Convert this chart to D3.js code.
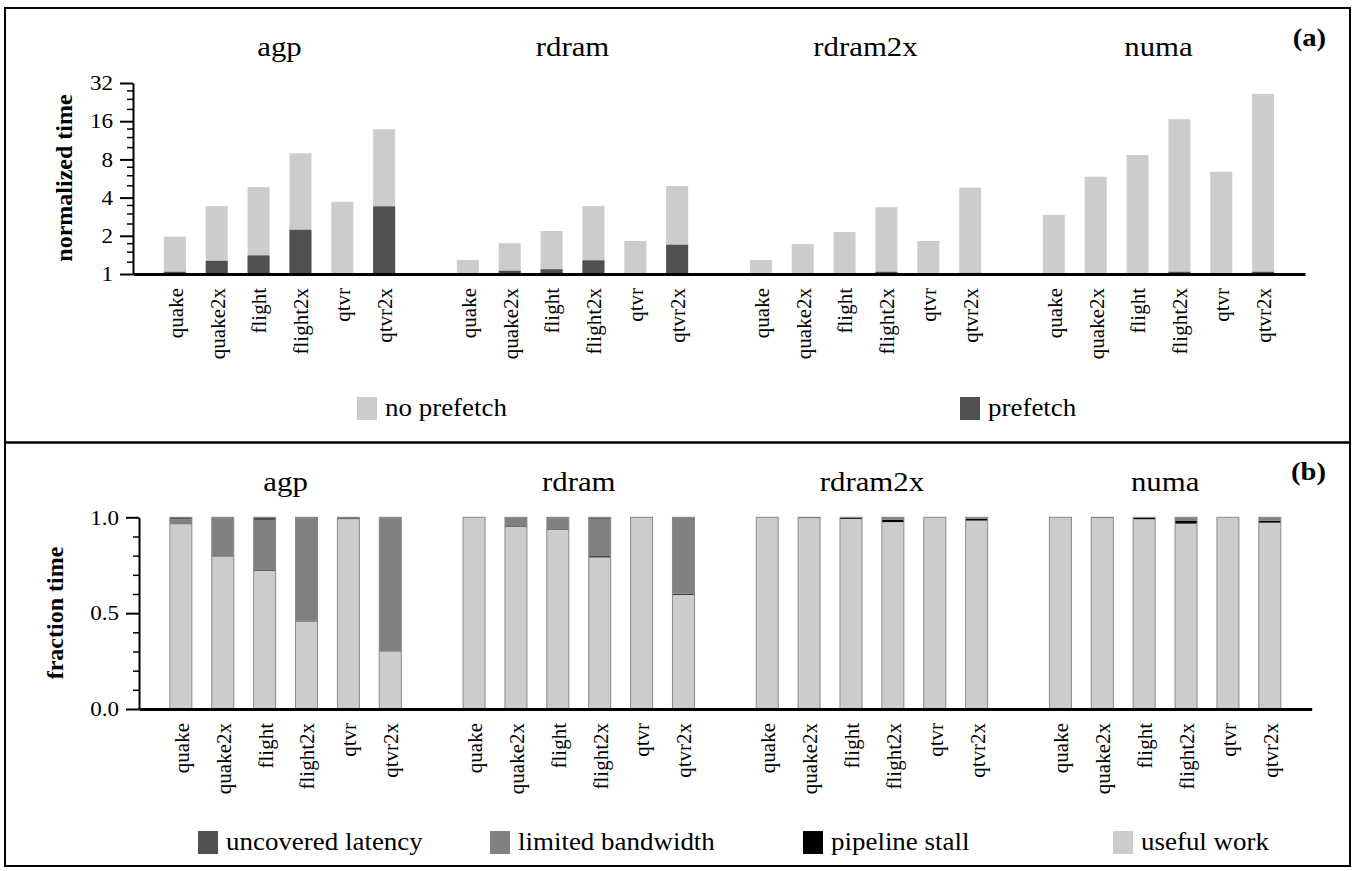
<!DOCTYPE html>
<html>
<head>
<meta charset="utf-8">
<script src="https://cdn.jsdelivr.net/npm/d3@7"></script>
<style>
	body { margin: 0; background: #fff; }
	svg text { font-family: 'Liberation Serif', 'Times New Roman', serif; fill: #000; }
</style>
</head>
<body>
<div id="graph"></div>
<script>
// groups of bars (memory systems) and the apps in each group
var groups = ['agp', 'rdram', 'rdram2x', 'numa'];
var apps = ['quake', 'quake2x', 'flight', 'flight2x', 'qtvr', 'qtvr2x'];

// (a) normalized time, one row per group
var noPrefetch = [
	[1.97, 3.43, 4.85, 8.94, 3.71, 13.8],
	[1.29, 1.75, 2.18, 3.43, 1.82, 4.94],
	[1.29, 1.72, 2.14, 3.36, 1.82, 4.79],
	[2.92, 5.84, 8.67, 16.6, 6.39, 26.3]
];
var prefetch = [
	[1.04, 1.27, 1.40, 2.23, 1.01, 3.41],
	[1.00, 1.06, 1.09, 1.28, 1.00, 1.70],
	[1.00, 1.00, 1.01, 1.04, 1.00, 1.02],
	[1.00, 1.00, 1.01, 1.04, 1.00, 1.04]
];

// (b) fraction time, stacked bottom to top
var usefulWork = [
	[0.963, 0.795, 0.722, 0.457, 0.990, 0.301],
	[1.000, 0.951, 0.934, 0.791, 0.998, 0.596],
	[1.000, 0.996, 0.992, 0.975, 1.000, 0.983],
	[1.000, 0.997, 0.990, 0.967, 1.000, 0.972]
];
var pipelineStall = [
	[0.000, 0.002, 0.003, 0.004, 0.000, 0.004],
	[0.000, 0.003, 0.003, 0.006, 0.000, 0.005],
	[0.000, 0.004, 0.006, 0.012, 0.000, 0.010],
	[0.000, 0.003, 0.007, 0.014, 0.000, 0.010]
];
var limitedBandwidth = [
	[0.027, 0.198, 0.258, 0.534, 0.002, 0.690],
	[0.000, 0.046, 0.058, 0.195, 0.002, 0.396],
	[0.000, 0.000, 0.002, 0.013, 0.000, 0.007],
	[0.000, 0.000, 0.003, 0.019, 0.000, 0.018]
];
var uncoveredLatency = [
	[0.010, 0.005, 0.017, 0.005, 0.008, 0.005],
	[0.000, 0.000, 0.005, 0.008, 0.000, 0.003],
	[0.000, 0.000, 0.000, 0.000, 0.000, 0.000],
	[0.000, 0.000, 0.000, 0.000, 0.000, 0.000]
];

var logTicks = [1, 2, 4, 8, 16, 32];
var logMinor = [1.25, 1.5, 1.75, 2.5, 3, 3.5, 5, 6, 7, 10, 12, 14, 20, 24, 28];
var fracTicks = [0, 0.5, 1.0];
var fracMinor = [0.1, 0.2, 0.3, 0.4, 0.6, 0.7, 0.8, 0.9];

var legendA = ['no prefetch', 'prefetch'];
var legendB = ['uncovered latency', 'limited bandwidth', 'pipeline stall', 'useful work'];

var LIGHT = '#cccccc', MID = '#808080', DARK = '#505050', BLACK = '#000000';
var SX = 1.1;  // horizontal stretch of the upright text

var width = 1355, height = 871;

var svg = d3.select('#graph').append('svg')
	.attr('width', width)
	.attr('height', height);

// slot index of every bar: 6 bars per group, one empty slot between groups
var slots = [];
groups.forEach(function(g, gi) {
	apps.forEach(function(a, ai) {
		slots.push({ group: gi, app: ai, slot: gi * 7 + ai });
	});
});
var used = slots.map(function(s) { return s.slot; });

var barWidth = 22;

function stretchedText(sel, x, y, str, size, anchor, weight) {
	return sel.append('text')
		.attr('transform', 'translate(' + x + ',' + y + ') scale(' + SX + ',1)')
		.attr('text-anchor', anchor || 'middle')
		.style('font-size', size + 'px')
		.style('font-weight', weight || 'normal')
		.text(str);
}

function drawFrame() {
	svg.append('rect')
		.attr('x', 5).attr('y', 8)
		.attr('width', 1345).attr('height', 858)
		.attr('fill', 'none')
		.attr('stroke', '#000')
		.attr('stroke-width', 2);

	svg.append('line')
		.attr('x1', 5).attr('x2', 1350)
		.attr('y1', 442.5).attr('y2', 442.5)
		.attr('stroke', '#000')
		.attr('stroke-width', 2.5);
}

// shared pieces of one panel: x axis, group titles, y label
function panelAxes(g, xScale, yBase, titleY, yLabel, labelX, tag, tagY) {
	var slotAxis = d3.axisBottom(xScale)
		.tickSize(0)
		.tickFormat(function(d) { return apps[d % 7]; });

	var ax = g.append('g')
		.attr('transform', 'translate(0,' + yBase + ')')
		.call(slotAxis);

	ax.select('.domain').attr('stroke', '#000').attr('stroke-width', 3);
	ax.selectAll('.tick').filter(function(d) { return used.indexOf(d) < 0; }).remove();
	ax.selectAll('.tick text')
		.attr('transform', 'rotate(-90)')
		.attr('x', -14)
		.attr('y', 0)
		.attr('dy', '0.35em')
		.attr('text-anchor', 'end')
		.style('font-family', "'Liberation Serif', serif")
		.style('font-size', '21px');

	groups.forEach(function(name, gi) {
		var cx = (xScale(gi * 7) + xScale(gi * 7 + 5)) / 2;
		stretchedText(g, cx, titleY, name, 28);
	});

	g.append('text')
		.attr('transform', 'translate(' + labelX + ',' + (yBase - 96) + ') rotate(-90)')
		.attr('text-anchor', 'middle')
		.style('font-size', '24px')
		.style('font-weight', 'bold')
		.text(yLabel);

	stretchedText(g, 1326, tagY, tag, 26, 'end', 'bold');
}

function pointScale(x0, x1) {
	return d3.scalePoint()
		.domain(d3.range(27))
		.range([x0, x1])
		.padding(1);
}

function drawTop() {
	var g = svg.append('g');
	var x = pointScale(133, 1305);
	var y = d3.scaleLog().base(2).domain([1, 32]).range([274, 83]);

	// bars: no prefetch behind, prefetch in front
	g.selectAll('rect.nopf').data(slots).enter()
		.append('rect')
			.attr('class', 'nopf')
			.attr('x', function(d) { return x(d.slot) - barWidth / 2; })
			.attr('width', barWidth)
			.attr('y', function(d) { return y(noPrefetch[d.group][d.app]); })
			.attr('height', function(d) { return y(1) - y(noPrefetch[d.group][d.app]); })
			.attr('fill', LIGHT);

	g.selectAll('rect.pf').data(slots).enter()
		.append('rect')
			.attr('class', 'pf')
			.attr('x', function(d) { return x(d.slot) - barWidth / 2; })
			.attr('width', barWidth)
			.attr('y', function(d) { return y(prefetch[d.group][d.app]); })
			.attr('height', function(d) { return y(1) - y(prefetch[d.group][d.app]); })
			.attr('fill', DARK);

	panelAxes(g.append('g'), x, 274, 56, 'normalized time', 72, '(a)', 46);

	// y axis, major then minor ticks
	var yAxis = d3.axisLeft(y)
		.tickValues(logTicks)
		.tickFormat(d3.format('d'))
		.tickSizeInner(13)
		.tickSizeOuter(0)
		.tickPadding(7);

	var yg = g.append('g').attr('transform', 'translate(133,0)').call(yAxis);
	yg.select('.domain').attr('stroke-width', 2);
	yg.selectAll('.tick line').attr('stroke-width', 2);
	yg.selectAll('.tick text')
		.attr('x', -20 / SX)
		.attr('transform', 'scale(' + SX + ',1)')
		.style('font-family', "'Liberation Serif', serif")
		.style('font-size', '21px');

	var yMinor = d3.axisLeft(y).tickValues(logMinor).tickFormat('').tickSizeInner(6).tickSizeOuter(0);
	var ym = g.append('g').attr('transform', 'translate(133,0)').call(yMinor);
	ym.select('.domain').remove();
	ym.selectAll('.tick line').attr('stroke-width', 1.5);

	// legend
	var lx = [357, 960];
	var lc = [LIGHT, DARK];
	legendA.forEach(function(name, i) {
		g.append('rect')
			.attr('x', lx[i]).attr('y', 397)
			.attr('width', 20).attr('height', 23)
			.attr('fill', lc[i]);
		stretchedText(g, lx[i] + 28, 416, name, 24.5, 'start');
	});
}

function drawBottom() {
	var g = svg.append('g');
	var x = pointScale(139, 1311.7);
	var y = d3.scaleLinear().domain([0, 1]).range([709, 517.3]);

	var rows = slots.map(function(s) {
		return {
			slot: s.slot,
			useful: usefulWork[s.group][s.app],
			stall: pipelineStall[s.group][s.app],
			bandwidth: limitedBandwidth[s.group][s.app],
			latency: uncoveredLatency[s.group][s.app]
		};
	});

	var keys = ['useful', 'stall', 'bandwidth', 'latency'];
	var colors = { useful: LIGHT, stall: BLACK, bandwidth: MID, latency: DARK };
	var series = d3.stack().keys(keys)(rows);

	var layers = g.selectAll('g.layer').data(series).enter()
		.append('g')
			.attr('class', 'layer')
			.attr('fill', function(d) { return colors[d.key]; });

	layers.selectAll('rect').data(function(d) { return d; }).enter()
		.append('rect')
			.attr('x', function(d) { return x(d.data.slot) - barWidth / 2; })
			.attr('width', barWidth)
			.attr('y', function(d) { return y(d[1]); })
			.attr('height', function(d) { return Math.max(0, y(d[0]) - y(d[1])); });

	// thin outline round every whole bar
	g.selectAll('rect.outline').data(rows).enter()
		.append('rect')
			.attr('class', 'outline')
			.attr('x', function(d) { return x(d.slot) - barWidth / 2; })
			.attr('width', barWidth)
			.attr('y', y(1))
			.attr('height', y(0) - y(1))
			.attr('fill', 'none')
			.attr('stroke', '#8a8a8a')
			.attr('stroke-width', 1);

	panelAxes(g.append('g'), x, 709, 491, 'fraction time', 63, '(b)', 480);

	var yAxis = d3.axisLeft(y)
		.tickValues(fracTicks)
		.tickFormat(d3.format('.1f'))
		.tickSizeInner(13)
		.tickSizeOuter(0)
		.tickPadding(7);

	var yg = g.append('g').attr('transform', 'translate(139,0)').call(yAxis);
	yg.select('.domain').attr('stroke-width', 2);
	yg.selectAll('.tick line').attr('stroke-width', 2);
	yg.selectAll('.tick text')
		.attr('x', -20 / SX)
		.attr('transform', 'scale(' + SX + ',1)')
		.style('font-family', "'Liberation Serif', serif")
		.style('font-size', '21px');

	var yMinor = d3.axisLeft(y).tickValues(fracMinor).tickFormat('').tickSizeInner(6).tickSizeOuter(0);
	var ym = g.append('g').attr('transform', 'translate(139,0)').call(yMinor);
	ym.select('.domain').remove();
	ym.selectAll('.tick line').attr('stroke-width', 1.5);

	// legend
	var lx = [198, 490, 803, 1113];
	var lc = [DARK, MID, BLACK, LIGHT];
	legendB.forEach(function(name, i) {
		g.append('rect')
			.attr('x', lx[i]).attr('y', 831)
			.attr('width', 20).attr('height', 23)
			.attr('fill', lc[i]);
		stretchedText(g, lx[i] + 28, 850, name, 24.5, 'start');
	});
}

drawFrame();
drawTop();
drawBottom();
</script>
</body>
</html>
